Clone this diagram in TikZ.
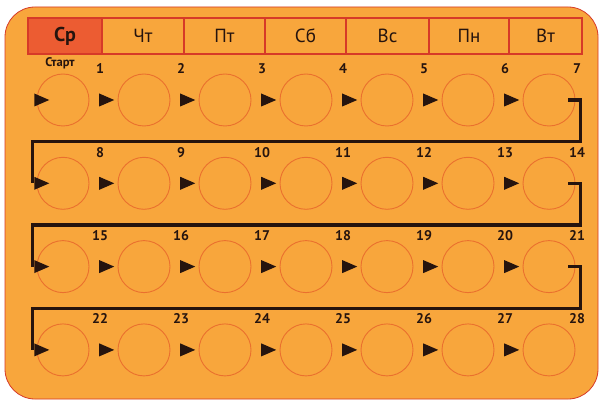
\documentclass[tikz,border=0pt]{standalone}
\usepackage{fontspec}
\setmainfont{PT Sans}
\usetikzlibrary{shapes.geometric,calc}

\definecolor{packbg}{RGB}{248,166,60}
\definecolor{packred}{RGB}{214,58,40}
\definecolor{startred}{RGB}{236,92,50}
\definecolor{ringline}{RGB}{234,112,46}
\definecolor{trackdark}{RGB}{38,20,14}

\begin{document}
\begin{tikzpicture}[
  x=1pt, y=-1pt,
  day/.style={draw=packred, line width=1.3pt, fill=packbg, minimum height=36pt, inner sep=0pt, text=trackdark, font=\fontsize{19}{19}\selectfont},
  pill/.style={circle, draw=ringline, line width=0.9pt, minimum size=52pt, inner sep=0pt},
  tri/.style={isosceles triangle, isosceles triangle stretches, fill=trackdark, inner sep=0pt, minimum width=13pt, minimum height=15pt},
  num/.style={text=trackdark, font=\bfseries\fontsize{14}{14}\selectfont, inner sep=0pt},
  track/.style={draw=trackdark, line width=3.4pt}
]
\useasboundingbox (0,0) rectangle (601,403);
\fill[white] (0,0) rectangle (601,403);
\draw[packred, fill=packbg, line width=0.8pt, rounded corners=30pt] (5,7) rectangle (598,399);

% days of the week
\node[day, fill=startred, minimum width=74pt, font=\bfseries\fontsize{20}{20}\selectfont] (d1) at (65,36) {Ср};
\node[day, minimum width=82pt] (d2) at (143,36) {Чт};
\node[day, minimum width=81pt] (d3) at (224.5,36) {Пт};
\node[day, minimum width=81pt] (d4) at (305.5,36) {Сб};
\node[day, minimum width=83pt] (d5) at (387.5,36) {Вс};
\node[day, minimum width=80pt] (d6) at (469,36) {Пн};
\node[day, minimum width=73pt] (d7) at (545.5,36) {Вт};

\node[text=trackdark, font=\bfseries\fontsize{12.5}{12.5}\selectfont] (start) at (60,63) {Старт};

% pills and their numbers
\foreach \r in {0,...,3} {
  \foreach \c in {1,...,7} {
    \pgfmathtruncatemacro\k{7*\r+\c}
    \pgfmathsetmacro\dx{\c==7 ? 28 : 37}
    \node[pill] (c\k) at ({63+81*(\c-1)}, {100+83.3*\r}) {};
    \node[num] (n\k) at ([shift={(\dx,-31)}]c\k.center) {\k};
  }
}

% rows are linked from right to left
\draw[track] ([xshift=-7pt]c7.east) -- ([xshift=5pt]c7.east) |- ($(c7)!.5!(c14)$) -| ([xshift=-4pt]c8.west);
\draw[track] ([xshift=-7pt]c14.east) -- ([xshift=5pt]c14.east) |- ($(c14)!.5!(c21)$) -| ([xshift=-4pt]c15.west);
\draw[track] ([xshift=-7pt]c21.east) -- ([xshift=5pt]c21.east) |- ($(c21)!.5!(c28)$) -| ([xshift=-4pt]c22.west);

% arrows
\foreach \k in {1,8,15,22} {
  \node[tri] (a\k) at ([xshift=2pt]c\k.west) {};
}
\foreach \r in {0,...,3} {
  \foreach \c in {1,...,6} {
    \pgfmathtruncatemacro\k{7*\r+\c}
    \pgfmathtruncatemacro\m{\k+1}
    \path (c\k.east) -- node[tri] (a\m) {} (c\m.west);
  }
}
\end{tikzpicture}
\end{document}
